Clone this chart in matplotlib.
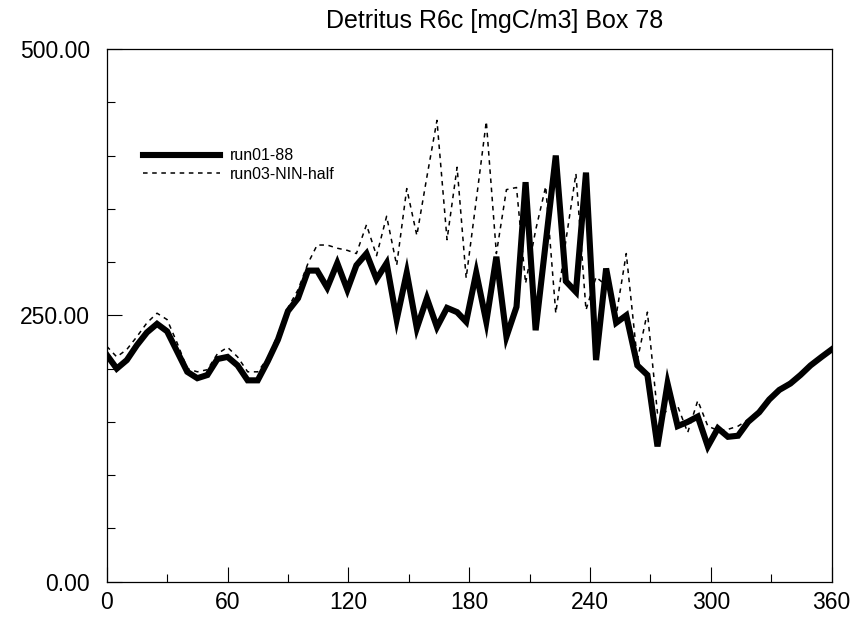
import matplotlib.pyplot as plt
from matplotlib.ticker import MultipleLocator, FormatStrFormatter

# output days (nominal 5-day steps)
days = [0, 5, 10, 15, 20, 25, 30, 35, 40, 45,
        50, 55, 60, 65, 70, 75, 80, 85, 90, 95,
        100, 104.5, 109.5, 114.5, 119.5, 124, 129, 134, 139, 144,
        149, 154, 159, 164, 169, 174, 178.5, 183.5, 188.5, 193.5,
        198.5, 203.5, 208, 213, 218, 223, 228, 233, 238, 243,
        248, 253, 258, 263.5, 268.5, 273.5, 278.5, 283.5, 288.5, 293.5,
        298.5, 303.5, 308.5, 313.5, 318.5, 324, 329, 334, 339.5, 344.5,
        349.5, 355, 360]

# run01-88 (thick solid)
run01 = [213, 200, 208, 222, 234, 242, 235, 216, 197, 191,
         194, 209, 211, 203, 189, 189, 207, 227, 254, 266,
         292, 292, 276, 299, 274, 297, 308, 284, 299, 246,
         290, 238, 266, 239, 257, 253, 244, 290, 244, 305,
         230, 258, 375, 236, 318, 400, 282, 272, 384, 208,
         294, 243, 250, 203, 194, 127, 186, 146, 150, 155,
         127, 144, 136, 137, 150, 159, 171, 180, 186, 194,
         203, 211, 218]

# run03-NIN-half (thin dashed)
run03 = [221, 211, 218, 230, 243, 252, 246, 224, 200, 197,
         199, 214, 220, 211, 197, 197, 210, 232, 257, 274,
         299, 316, 316, 313, 311, 308, 335, 306, 343, 297,
         369, 325, 380, 433, 321, 389, 285, 358, 432, 308,
         368, 370, 280, 330, 371, 252, 320, 383, 255, 286,
         278, 250, 308, 208, 253, 158, 160, 165, 140, 170,
         146, 142, 143, 146, 152, 161, 172, 181, 188, 195,
         204, 212, 219]

plt.rcParams['font.family'] = ['Liberation Sans', 'DejaVu Sans']

fig = plt.figure(figsize=(8.59, 6.17), dpi=100)
ax = fig.add_axes([0.1242, 0.0572, 0.8440, 0.8634])

ax.plot(days, run01, color='black', lw=4.4, solid_joinstyle='miter', label='run01-88')
ax.plot(days, run03, color='black', lw=1.1, linestyle=(0, (3, 3)), label='run03-NIN-half')

ax.set_xlim(0, 360)
ax.set_ylim(0, 500)
ax.xaxis.set_major_locator(MultipleLocator(60))
ax.xaxis.set_minor_locator(MultipleLocator(30))
ax.yaxis.set_major_locator(MultipleLocator(250))
ax.yaxis.set_minor_locator(MultipleLocator(50))
ax.yaxis.set_major_formatter(FormatStrFormatter('%.2f'))

ax.tick_params(which='both', direction='in', top=False, right=False, width=0.8)
ax.tick_params(which='major', length=11, labelsize=16.5)
ax.tick_params(axis='x', which='major', pad=7)
ax.tick_params(axis='y', which='major', pad=12)
ax.tick_params(which='minor', length=5.5)
for s in ax.spines.values():
    s.set_linewidth(0.9)

ax.set_title('Detritus R6c [mgC/m3] Box 78', fontsize=18, x=0.5356, pad=15)

ax.legend(loc='upper left', bbox_to_anchor=(0.0505, 0.8134), frameon=False,
          fontsize=11.5, handlelength=4.8, handletextpad=0.6, labelspacing=0.22,
          borderpad=0, borderaxespad=0)

fig.savefig('out.png', dpi=100)
